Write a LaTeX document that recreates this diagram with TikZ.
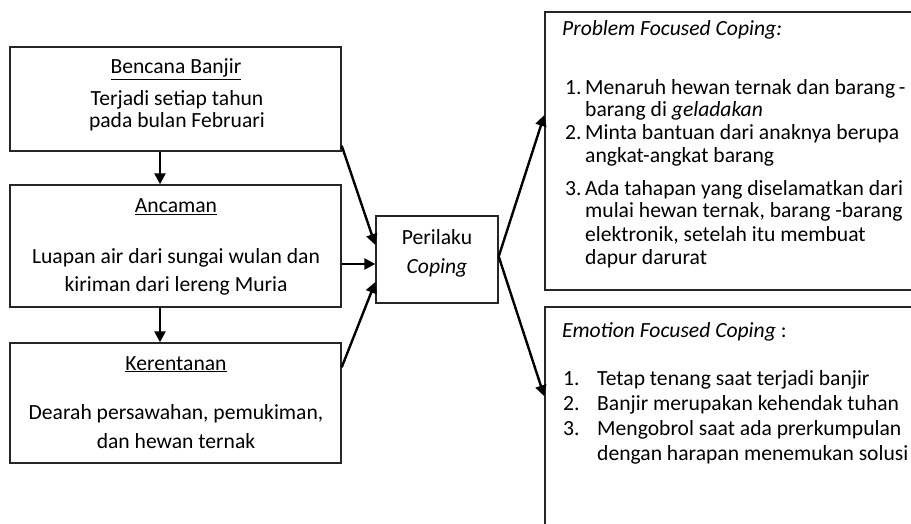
\documentclass[tikz,border=0pt]{standalone}
\usepackage{fontspec}
\setmainfont{Carlito}
\usetikzlibrary{arrows.meta}
\tikzset{
  box/.style={draw=black!85, line width=1.4pt, inner sep=0pt, rectangle},
  arr/.style={line width=2.4pt, -{Triangle[length=11pt,width=11pt]}},
  ln/.style={anchor=base, inner sep=0pt},
  lnw/.style={anchor=base west, inner sep=0pt},
}
\begin{document}
\begin{tikzpicture}[x=1pt,y=-1pt,font=\fontsize{21.6}{25}\selectfont]
\useasboundingbox (0,0) rectangle (911,524);
\clip (0,0) rectangle (911,524);
% left boxes
\node[box, minimum width=331pt, minimum height=104pt] (b1) at (175.5,99) {};
\node[box, minimum width=331pt, minimum height=122pt] (b2) at (175.5,246) {};
\node[box, minimum width=331pt, minimum height=120pt] (b3) at (175.5,403) {};
\node[box, minimum width=122pt, minimum height=87pt] (p) at (437,259.5) {};
\node[box, minimum width=390pt, minimum height=278pt] (pf) at (740,151) {};
\node[box, minimum width=390pt, minimum height=260pt] (ef) at (740,437) {};
% box 1 text
\node[ln] (t11) at (176,74) {\underline{Bencana Banjir}};
\node[ln] (t12) at (177,106) {Terjadi setiap tahun};
\node[ln] (t13) at (177,128) {pada bulan Februari};
% box 2 text
\node[ln] (t21) at (176,213) {\underline{Ancaman}};
\node[ln] (t22) at (176,263) {Luapan air dari sungai wulan dan};
\node[ln] (t23) at (176,291) {kiriman dari lereng Muria};
% box 3 text
\node[ln] (t31) at (176,370) {\underline{Kerentanan}};
\node[ln] (t32) at (176,419) {Dearah persawahan, pemukiman,};
\node[ln] (t33) at (176,448) {dan hewan ternak};
% perilaku
\node[ln] (tp1) at (437,244) {Perilaku};
\node[ln] (tp2) at (437,273) {\itshape Coping};
% problem focused
\node[lnw] (q0) at (562,36) {\itshape Problem Focused Coping:};
\node[lnw] (q1n) at (565,95) {1.};
\node[lnw] (q1a) at (585,95) {Menaruh hewan ternak dan barang\,-};
\node[lnw] (q1b) at (585,117) {barang di \textit{geladakan}};
\node[lnw] (q2n) at (565,140) {2.};
\node[lnw] (q2a) at (585,140) {Minta bantuan dari anaknya berupa};
\node[lnw] (q2b) at (585,163) {angkat-angkat barang};
\node[lnw] (q3n) at (565,196) {3.};
\node[lnw] (q3a) at (585,196) {Ada tahapan yang diselamatkan dari};
\node[lnw] (q3b) at (585,218) {mulai hewan ternak, barang -barang};
\node[lnw] (q3c) at (585,241) {elektronik, setelah itu membuat};
\node[lnw] (q3d) at (585,264) {dapur darurat};
% emotion focused
\node[lnw] (e0) at (562,337) {\textit{Emotion Focused Coping} :};
\node[lnw] (e1n) at (563,385) {1.};
\node[lnw] (e1a) at (597,385) {Tetap tenang saat terjadi banjir};
\node[lnw] (e2n) at (563,410) {2.};
\node[lnw] (e2a) at (597,410) {Banjir merupakan kehendak tuhan};
\node[lnw] (e3n) at (563,435) {3.};
\node[lnw] (e3a) at (597,435) {Mengobrol saat ada prerkumpulan};
\node[lnw] (e3b) at (597,460) {dengan harapan menemukan solusi};
% connectors
\draw[arr] ([xshift=-15.5pt]b1.south) -- ([xshift=-15.5pt]b2.north);
\draw[arr] ([xshift=-15.5pt]b2.south) -- ([xshift=-15.5pt]b3.north);
\draw[arr] ([yshift=6pt]b1.south east) -- ([yshift=14.5pt]p.west);
\draw[arr] ([yshift=-18pt]b2.east) -- ([yshift=-4.5pt]p.west);
\draw[arr] ([yshift=-25pt]b3.north east) -- ([yshift=-22.5pt]p.west);
\draw[arr] ([yshift=3pt]p.east) -- ([yshift=36pt]pf.west);
\draw[arr] ([yshift=3pt]p.east) -- ([yshift=-90pt]ef.north west);
\end{tikzpicture}
\end{document}
